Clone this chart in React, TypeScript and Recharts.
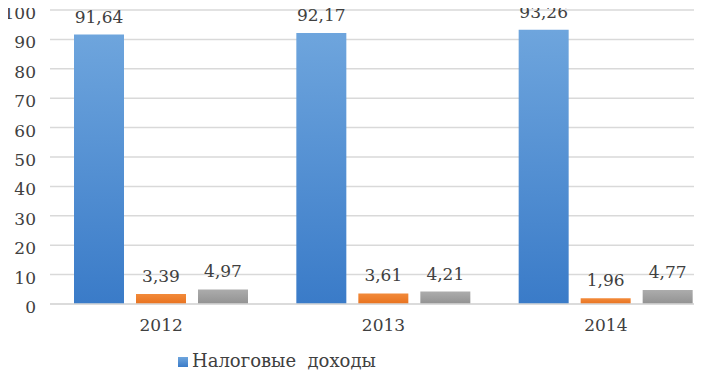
import { BarChart, Bar, XAxis, YAxis, CartesianGrid, Legend, LabelList } from "recharts";

const years = ["2012", "2013", "2014"];
const taxIncome = [91.64, 92.17, 93.26];
const nonTaxIncome = [3.39, 3.61, 1.96];
const grants = [4.97, 4.21, 4.77];
const yTicks = [0, 10, 20, 30, 40, 50, 60, 70, 80, 90, 100];

const data = years.map((year, i) => ({
  year,
  tax: taxIncome[i],
  nonTax: nonTaxIncome[i],
  grants: grants[i],
}));

const font = "DejaVu Serif";
const fmt = (v: number) => String(v).replace(".", ",");
const textStyle = { fontSize: 17, fill: "#404040", fontFamily: font };

export default function App() {
  return (
    <div style={{ margin: -8, width: 702, height: 380, overflow: "hidden", background: "#fff", fontFamily: font }}>
      <BarChart
        width={730}
        height={380}
        data={data}
        margin={{ top: 10, right: 13, left: 0, bottom: 0 }}
        barSize={50}
        barGap={12}
        style={{ fontFamily: font }}
      >
        <defs>
          <linearGradient id="gBlue" x1="0" y1="0" x2="0" y2="1">
            <stop offset="0%" stopColor="#6ea5dd" />
            <stop offset="100%" stopColor="#3a7bc8" />
          </linearGradient>
          <linearGradient id="gOrange" x1="0" y1="0" x2="0" y2="1">
            <stop offset="0%" stopColor="#f28a3a" />
            <stop offset="100%" stopColor="#e8721f" />
          </linearGradient>
          <linearGradient id="gGray" x1="0" y1="0" x2="0" y2="1">
            <stop offset="0%" stopColor="#acacac" />
            <stop offset="100%" stopColor="#929292" />
          </linearGradient>
        </defs>
        <CartesianGrid vertical={false} stroke="#d9d9d9" strokeWidth={1.5} />
        <XAxis
          dataKey="year"
          height={40}
          tickSize={0}
          tickMargin={15}
          axisLine={{ stroke: "#d9d9d9", strokeWidth: 1.5 }}
          tick={textStyle}
        />
        <YAxis
          width={50}
          domain={[0, 100]}
          ticks={yTicks}
          interval={0}
          axisLine={false}
          tickLine={false}
          tickSize={0}
          tickMargin={14}
          tick={{ ...textStyle, dy: 3 }}
        />
        <Legend
          verticalAlign="bottom"
          align="left"
          iconType="square"
          iconSize={10}
          height={36}
          wrapperStyle={{ left: 178, top: 350, fontFamily: font, fontSize: 18 }}
          formatter={(value: string) => (
            <span style={{ color: "#404040", whiteSpace: "pre", fontFamily: font }}>{value}</span>
          )}
        />
        <Bar dataKey="tax" name="Налоговые  доходы" fill="url(#gBlue)" isAnimationActive={false}>
          <LabelList dataKey="tax" position="top" offset={12} formatter={fmt} style={textStyle} />
        </Bar>
        <Bar dataKey="nonTax" name="Неналоговые доходы" fill="url(#gOrange)" legendType="none" isAnimationActive={false}>
          <LabelList dataKey="nonTax" position="top" offset={12} formatter={fmt} style={textStyle} />
        </Bar>
        <Bar dataKey="grants" name="Безвозмездные поступления" fill="url(#gGray)" legendType="none" isAnimationActive={false}>
          <LabelList dataKey="grants" position="top" offset={12} formatter={fmt} style={textStyle} />
        </Bar>
      </BarChart>
    </div>
  );
}
